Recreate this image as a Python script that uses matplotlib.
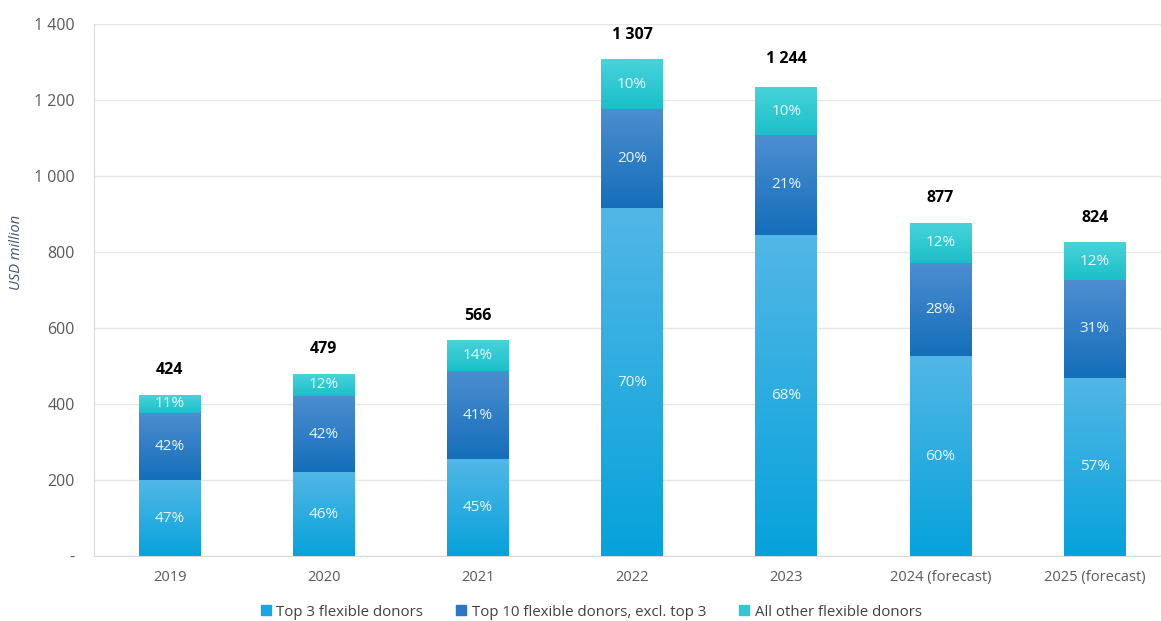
import numpy as np
import matplotlib.pyplot as plt
from matplotlib.colors import LinearSegmentedColormap
from matplotlib.lines import Line2D
from matplotlib.ticker import FuncFormatter

plt.rcParams['font.family'] = ['Open Sans', 'DejaVu Sans']

years = ["2019", "2020", "2021", "2022", "2023", "2024 (forecast)", "2025 (forecast)"]
totals = [424, 479, 566, 1307, 1244, 877, 824]
share_top3 = [47, 46, 45, 70, 68, 60, 57]
share_top10 = [42, 42, 41, 20, 21, 28, 31]
share_other = [11, 12, 14, 10, 10, 12, 12]

series_names = ["Top 3 flexible donors", "Top 10 flexible donors, excl. top 3", "All other flexible donors"]
legend_colors = ["#1AA7DF", "#2A77C4", "#2EC9D1"]
# top / bottom colour of each segment's vertical gradient
gradients = [("#52B7E6", "#06A2DB"), ("#4D8ED1", "#146EB9"), ("#48D3DA", "#1BBFC9")]

fig = plt.figure(figsize=(11.61, 6.21), dpi=100)
ax = fig.add_axes([94 / 1161, 1 - 556 / 621, 1 - 94 / 1161, (556 - 24) / 621])

x = np.arange(len(years))
totals_arr = np.array(totals, dtype=float)
shares = [share_top3, share_top10, share_other]

grad = np.linspace(1, 0, 256).reshape(-1, 1)
bottom = np.zeros(len(years))
for shr, (c_top, c_bot), c_flat in zip(shares, gradients, legend_colors):
    vals = totals_arr * np.array(shr) / 100
    bars = ax.bar(x, vals, width=0.4, bottom=bottom, color=c_flat, zorder=2)
    cmap = LinearSegmentedColormap.from_list("seg", [c_bot, c_top])
    for b, s in zip(bars, shr):
        x0, y0, w, h = b.get_x(), b.get_y(), b.get_width(), b.get_height()
        ax.imshow(grad, cmap=cmap, vmin=0, vmax=1, aspect="auto",
                  extent=[x0, x0 + w, y0, y0 + h], zorder=3, interpolation="bilinear")
        ax.text(x0 + w / 2, y0 + h / 2, f"{s}%", ha="center", va="center",
                color="#EAF6FB", fontsize=11, zorder=4)
    bottom += vals

for xi, t in zip(x, totals):
    label = f"{t:,}".replace(",", " ")
    ax.annotate(label, (xi, t), xytext=(0, 12), textcoords="offset points",
                ha="center", va="bottom", fontsize=11.5, fontweight="bold", color="black")

ax.set_xlim(-0.49, 6.43)
ax.set_ylim(0, 1400)
ax.set_xticks(x)
ax.set_xticklabels(years)
ax.set_yticks(np.arange(0, 1401, 200))
ax.yaxis.set_major_formatter(FuncFormatter(
    lambda v, pos: "-" if v == 0 else f"{int(v):,}".replace(",", " ")))
ax.tick_params(axis="both", length=0, labelsize=10.5, colors="#595959")
ax.tick_params(axis="y", labelsize=11.5, pad=14)
ax.tick_params(axis="x", pad=10)

ax.grid(axis="y", color="#E6E6E6", linewidth=1, zorder=0)
ax.set_axisbelow(True)
for side in ["top", "right"]:
    ax.spines[side].set_visible(False)
for side in ["left", "bottom"]:
    ax.spines[side].set_color("#D9D9D9")

ax.set_ylabel("USD million", fontsize=10.5, style="italic", color="#44546A")
ax.yaxis.set_label_coords(-0.066, 0.57)

handles = [Line2D([], [], marker="s", linestyle="none", markersize=6.5, color=c) for c in legend_colors]
fig.legend(handles, series_names, loc="center", bbox_to_anchor=(591 / 1161, 1 - 612 / 621),
           ncol=3, frameon=False, fontsize=10.8, handlelength=0.7, handletextpad=0.35,
           columnspacing=2.2, labelcolor="#404040")

fig.savefig("out.png", dpi=100)
